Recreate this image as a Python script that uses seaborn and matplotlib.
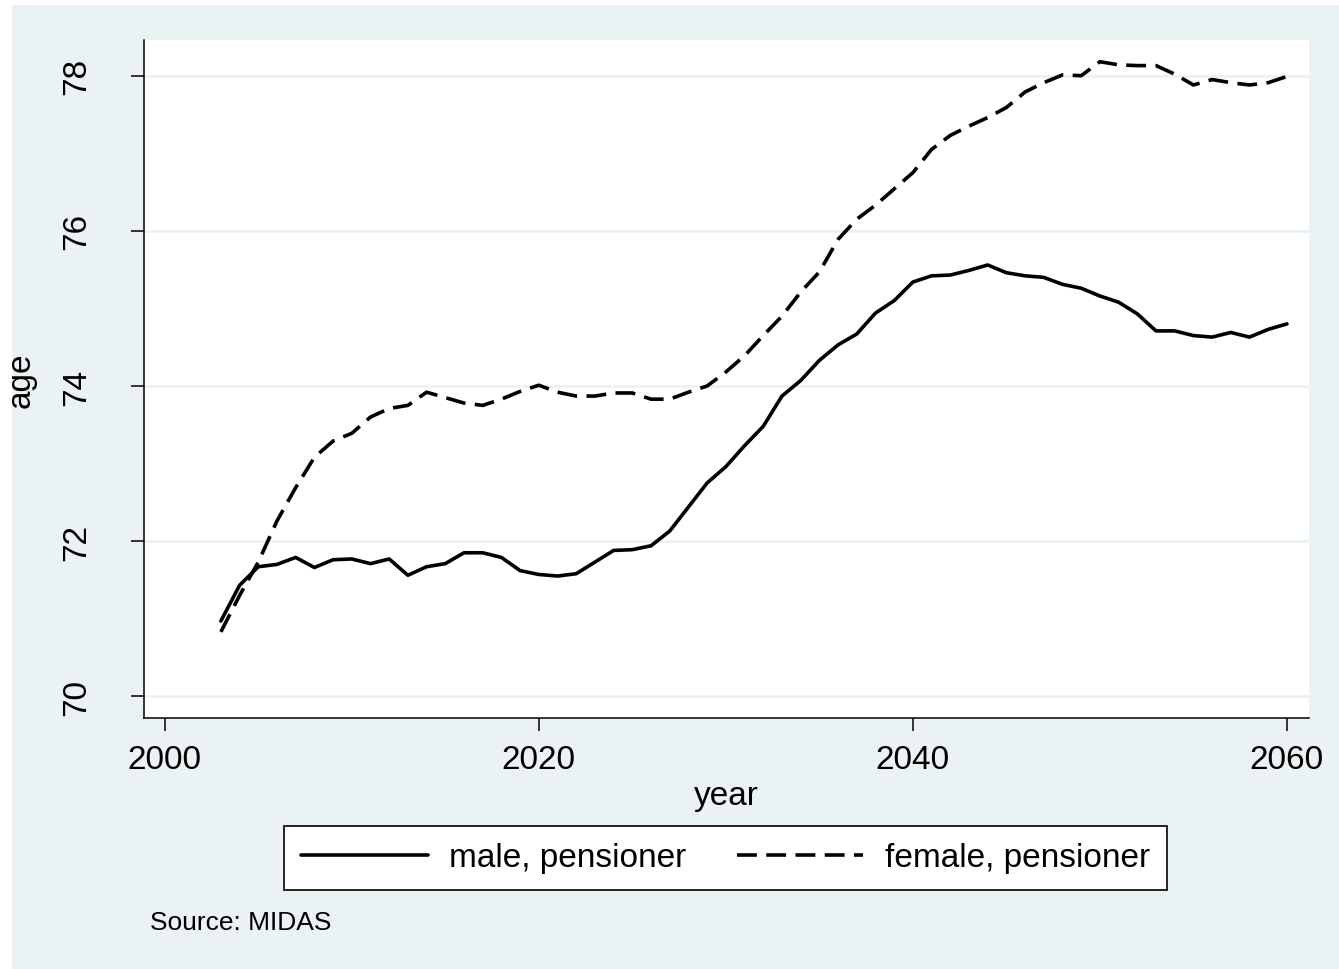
import numpy as np
import pandas as pd
import matplotlib
matplotlib.use("Agg")
import matplotlib.pyplot as plt
from matplotlib.patches import Rectangle
import seaborn as sns

# data
years = np.arange(2003, 2061)
male = [70.97, 71.43, 71.67, 71.70, 71.79, 71.66, 71.76, 71.77, 71.71, 71.77,
        71.56, 71.67, 71.71, 71.85, 71.85, 71.79, 71.62, 71.57, 71.55, 71.58,
        71.73, 71.88, 71.89, 71.94, 72.13, 72.44, 72.75, 72.96, 73.23, 73.48,
        73.87, 74.07, 74.33, 74.53, 74.67, 74.94, 75.10, 75.34, 75.42, 75.43,
        75.49, 75.56, 75.46, 75.42, 75.40, 75.31, 75.26, 75.16, 75.08, 74.93,
        74.71, 74.71, 74.65, 74.63, 74.69, 74.63, 74.73, 74.80]
female = [70.83, 71.30, 71.73, 72.26, 72.69, 73.08, 73.29, 73.39, 73.60, 73.71,
          73.75, 73.92, 73.85, 73.78, 73.75, 73.83, 73.93, 74.01, 73.92, 73.87,
          73.87, 73.91, 73.91, 73.83, 73.83, 73.92, 74.00, 74.18, 74.39, 74.65,
          74.90, 75.21, 75.47, 75.89, 76.15, 76.33, 76.54, 76.75, 77.05, 77.23,
          77.35, 77.46, 77.59, 77.79, 77.91, 78.01, 78.00, 78.18, 78.14, 78.13,
          78.13, 78.02, 77.88, 77.95, 77.91, 77.88, 77.91, 77.99]
x_ticks = [2000, 2020, 2040, 2060]
y_ticks = [70, 72, 74, 76, 78]

BG = "#EAF2F3"
W, H = 1339, 970

sns.set_style("white")
plt.rcParams["font.family"] = ["Liberation Sans", "DejaVu Sans"]
plt.rcParams["text.color"] = "black"
plt.rcParams["axes.labelcolor"] = "black"
plt.rcParams["xtick.color"] = "black"
plt.rcParams["ytick.color"] = "black"

fig = plt.figure(figsize=(W / 100, H / 100), dpi=100, facecolor="white")
fig.patches.append(Rectangle((12 / W, 0), 1, 1 - 6 / H, transform=fig.transFigure,
                             facecolor=BG, edgecolor="none", zorder=-1))

ax = fig.add_axes([144 / W, 1 - 719 / H, (1309 - 144) / W, (719 - 41) / H])
ax.set_facecolor("white")

df = pd.DataFrame({"year": years, "male": male, "female": female})
sns.lineplot(data=df, x="year", y="male", color="black", lw=2.6,
             label="male, pensioner", ax=ax)
sns.lineplot(data=df, x="year", y="female", color="black", lw=2.6,
             linestyle=(0, (5.5, 2.6)), label="female, pensioner", ax=ax)

ax.set_xlim(1998.89, 2061.18)
ax.set_ylim(69.72, 78.46)
ax.set_xticks(x_ticks)
ax.set_yticks(y_ticks)
ax.grid(axis="y", color=BG, lw=2)
ax.grid(axis="x", visible=False)
ax.set_axisbelow(True)

for s in ["top", "right"]:
    ax.spines[s].set_visible(False)
for s in ["left", "bottom"]:
    ax.spines[s].set_color("black")
    ax.spines[s].set_linewidth(1.1)

ax.tick_params(bottom=True, left=True, direction="out", length=9.4, width=1.1,
               labelsize=24, color="black", labelcolor="black")
ax.tick_params(axis="x", pad=9)
ax.tick_params(axis="y", pad=28)
plt.setp(ax.get_yticklabels(), rotation=90, va="center")

ax.set_xlabel("year", fontsize=24, color="black")
ax.set_ylabel("age", fontsize=24, color="black")
ax.xaxis.set_label_coords(0.5, (719 - 797) / 678)
ax.xaxis.label.set_va("center")
ax.yaxis.set_label_coords((21 - 144) / 1165, 0.5)
ax.yaxis.label.set_va("center")

handles, labels = ax.get_legend_handles_labels()
ax.get_legend().remove()
leg = fig.legend(handles, labels, loc="center", bbox_to_anchor=(725.5 / W, 1 - 859 / H),
                 ncol=2, fontsize=24, frameon=True, fancybox=False, shadow=False,
                 edgecolor="black", facecolor="white", framealpha=1,
                 borderpad=0.5, handlelength=3.8, handletextpad=0.65,
                 columnspacing=1.5)
leg.get_frame().set_linewidth(1.2)
for t in leg.get_texts():
    t.set_color("black")

fig.text(150 / W, 1 - 930 / H, "Source: MIDAS", fontsize=19, ha="left",
         va="baseline", color="black")

fig.savefig("out.png", dpi=100)
